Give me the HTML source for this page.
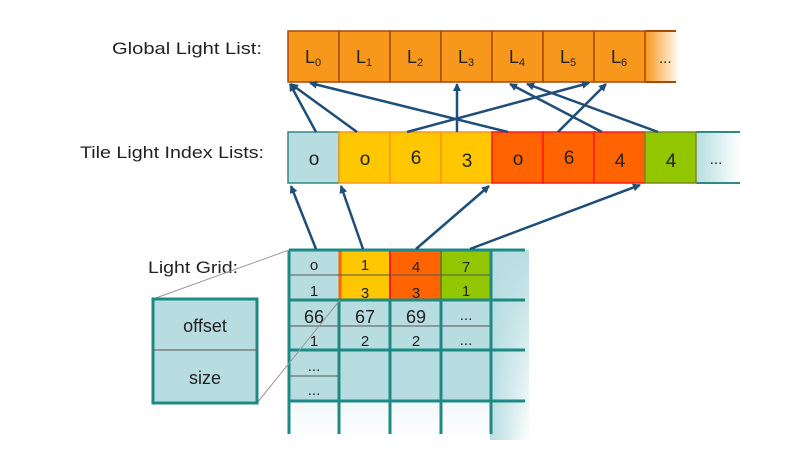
<!DOCTYPE html>
<html><head><meta charset="utf-8"><style>
html,body{margin:0;padding:0;background:#fff;}
svg{display:block;}
text{font-family:"Liberation Sans",sans-serif;fill:#222;}
</style></head><body>
<svg width="790" height="472" viewBox="0 0 790 472" xmlns="http://www.w3.org/2000/svg">
<defs>
<linearGradient id="gfade" x1="0" x2="1"><stop offset="0" stop-color="#f7981d"/><stop offset="1" stop-color="#f7981d" stop-opacity="0"/></linearGradient>
<linearGradient id="tfade" x1="0" x2="1"><stop offset="0" stop-color="#b7dde1"/><stop offset="1" stop-color="#b7dde1" stop-opacity="0"/></linearGradient>
<linearGradient id="rfade" x1="0" x2="1"><stop offset="0" stop-color="#b7dde1"/><stop offset="1" stop-color="#b7dde1" stop-opacity="0"/></linearGradient>
<linearGradient id="dfade" x1="0" y1="0" x2="0" y2="1"><stop offset="0" stop-color="#b7dde1"/><stop offset="1" stop-color="#b7dde1" stop-opacity="0"/></linearGradient>
<marker id="ah" markerWidth="8" markerHeight="8" refX="7" refY="4" orient="auto" markerUnits="userSpaceOnUse"><path d="M0,0 L8,4 L0,8 z" fill="#1f4e79"/></marker>
</defs>

<!-- labels -->
<text x="112" y="54" font-size="17" textLength="150" lengthAdjust="spacingAndGlyphs">Global Light List:</text>
<text x="80" y="158" font-size="17" textLength="184" lengthAdjust="spacingAndGlyphs">Tile Light Index Lists:</text>
<text x="148" y="273" font-size="17" textLength="90" lengthAdjust="spacingAndGlyphs">Light Grid:</text>

<!-- global list -->
<rect x="645" y="31" width="35" height="51" fill="url(#gfade)"/>
<line x1="645" y1="31" x2="676" y2="31" stroke="#a64a0a" stroke-width="2"/>
<line x1="645" y1="82" x2="676" y2="82" stroke="#a64a0a" stroke-width="2"/>
<g stroke="#a64a0a" stroke-width="1.5" fill="#f7981d">
<rect x="288" y="31" width="51" height="51"/><rect x="339" y="31" width="51" height="51"/><rect x="390" y="31" width="51" height="51"/><rect x="441" y="31" width="51" height="51"/><rect x="492" y="31" width="51" height="51"/><rect x="543" y="31" width="51" height="51"/><rect x="594" y="31" width="51" height="51"/>
</g>
<g font-size="18">
<text x="305" y="63">L<tspan font-size="11" dy="3">0</tspan></text>
<text x="356" y="63">L<tspan font-size="11" dy="3">1</tspan></text>
<text x="407" y="63">L<tspan font-size="11" dy="3">2</tspan></text>
<text x="458" y="63">L<tspan font-size="11" dy="3">3</tspan></text>
<text x="509" y="63">L<tspan font-size="11" dy="3">4</tspan></text>
<text x="560" y="63">L<tspan font-size="11" dy="3">5</tspan></text>
<text x="611" y="63">L<tspan font-size="11" dy="3">6</tspan></text>
<text x="659" y="63" font-size="15">...</text>
</g>

<!-- tile list -->
<rect x="696" y="132" width="45" height="51" fill="url(#tfade)"/>
<line x1="696" y1="132" x2="740" y2="132" stroke="#2c8a8a" stroke-width="2"/>
<line x1="696" y1="183" x2="740" y2="183" stroke="#2c8a8a" stroke-width="2"/>
<rect x="288" y="132" width="51" height="51" fill="#b7dde1" stroke="#2c8a8a" stroke-width="1.5"/>
<g fill="#ffc700" stroke="#f7981d" stroke-width="1.5">
<rect x="339" y="132" width="51" height="51"/><rect x="390" y="132" width="51" height="51"/><rect x="441" y="132" width="51" height="51"/></g>
<g fill="#ff6400" stroke="#ff1a1a" stroke-width="1.5">
<rect x="492" y="132" width="51" height="51"/><rect x="543" y="132" width="51" height="51"/><rect x="594" y="132" width="51" height="51"/></g>
<rect x="645" y="132" width="51" height="51" fill="#92c700" stroke="#7a8a20" stroke-width="1.5"/>
<g font-size="19" text-anchor="middle">
<text x="314" y="165">o</text><text x="365" y="165">o</text><text x="416" y="164">6</text><text x="467" y="167">3</text>
<text x="518" y="165">o</text><text x="569" y="164">6</text><text x="620" y="167">4</text><text x="671" y="167">4</text>
<text x="716" y="164" font-size="15">...</text>
</g>

<!-- arrows tile -> global -->
<g stroke="#1f4e79" stroke-width="2.5" marker-end="url(#ah)" fill="none">
<line x1="316" y1="132" x2="290" y2="84"/>
<line x1="357" y1="132" x2="291" y2="84"/>
<line x1="508" y1="132" x2="310" y2="83"/>
<line x1="407" y1="132" x2="589" y2="83"/>
<line x1="457" y1="132" x2="457" y2="84"/>
<line x1="558" y1="132" x2="606" y2="84"/>
<line x1="602" y1="132" x2="510" y2="84"/>
<line x1="658" y1="132" x2="527" y2="84"/>
</g>

<!-- grid background -->
<rect x="289" y="250" width="240" height="190" fill="url(#dfade)"/>
<rect x="490" y="250" width="40" height="190" fill="url(#rfade)"/>
<rect x="289" y="250" width="202" height="150" fill="#b7dde1"/>
<rect x="339" y="250" width="51" height="50" fill="#ffc700"/>
<rect x="390" y="250" width="51" height="50" fill="#ff6400"/>
<rect x="441" y="250" width="50" height="50" fill="#92c700"/>
<line x1="340" y1="250" x2="340" y2="300" stroke="#ff6400" stroke-width="3"/>
<line x1="390" y1="250" x2="390" y2="300" stroke="#ff1a1a" stroke-width="2"/>
<line x1="441" y1="250" x2="441" y2="300" stroke="#7a7a20" stroke-width="2"/>
<g stroke="#555" stroke-width="1">
<line x1="289" y1="275" x2="491" y2="275"/>
<line x1="289" y1="326" x2="491" y2="326"/>
<line x1="289" y1="376" x2="339" y2="376"/>
</g>
<g stroke="#1e8a86" stroke-width="3">
<line x1="289" y1="250" x2="525" y2="250"/>
<line x1="289" y1="300" x2="525" y2="300"/>
<line x1="289" y1="350" x2="525" y2="350"/>
<line x1="289" y1="401" x2="525" y2="401"/>
<line x1="289" y1="250" x2="289" y2="434"/>
<line x1="339" y1="300" x2="339" y2="434"/>
<line x1="390" y1="300" x2="390" y2="434"/>
<line x1="441" y1="300" x2="441" y2="434"/>
<line x1="491" y1="250" x2="491" y2="434"/>
</g>
<g font-size="15" text-anchor="middle">
<text x="314" y="270">o</text><text x="314" y="296">1</text>
<text x="365" y="270">1</text><text x="365" y="298">3</text>
<text x="416" y="272">4</text><text x="416" y="298">3</text>
<text x="466" y="272">7</text><text x="466" y="296">1</text>
<text x="314" y="323" font-size="18">66</text><text x="365" y="323" font-size="18">67</text><text x="416" y="323" font-size="18">69</text><text x="466" y="320">...</text>
<text x="314" y="346">1</text><text x="365" y="346">2</text><text x="416" y="346">2</text><text x="466" y="345">...</text>
<text x="314" y="371">...</text><text x="314" y="395">...</text>
</g>

<!-- arrows grid -> tile -->
<g stroke="#1f4e79" stroke-width="2.5" marker-end="url(#ah)" fill="none">
<line x1="316" y1="249" x2="291" y2="186"/>
<line x1="363" y1="249" x2="341" y2="186"/>
<line x1="416" y1="249" x2="489" y2="186"/>
<line x1="470" y1="249" x2="640" y2="185"/>
</g>

<!-- zoom lines and box -->
<line x1="153" y1="299" x2="289" y2="250" stroke="#999" stroke-width="1"/>
<line x1="257" y1="403" x2="340" y2="300" stroke="#999" stroke-width="1"/>
<rect x="153" y="299" width="104" height="104" fill="#b7dde1" stroke="#1e8a86" stroke-width="3"/>
<line x1="153" y1="350" x2="257" y2="350" stroke="#555" stroke-width="1"/>
<text x="205" y="332" font-size="18" text-anchor="middle">offset</text>
<text x="205" y="384" font-size="18" text-anchor="middle">size</text>
</svg>
</body></html>
